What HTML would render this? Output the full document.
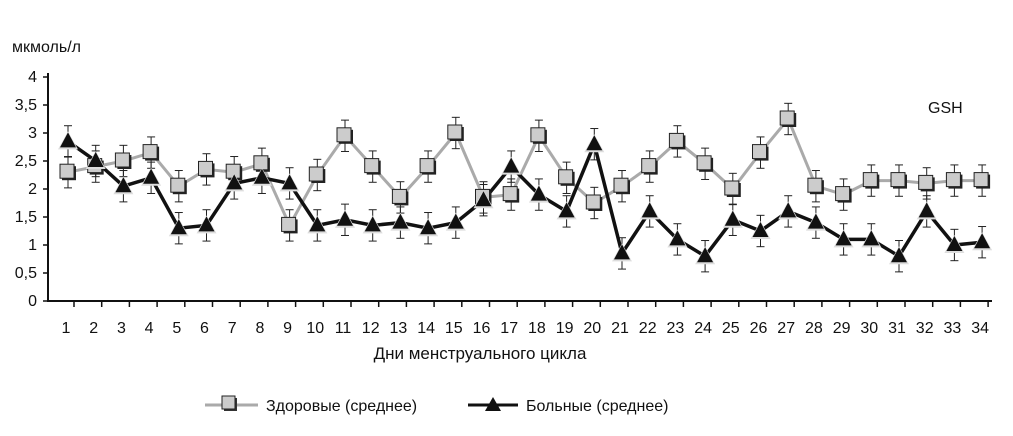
<!DOCTYPE html>
<html><head><meta charset="utf-8"><style>
body{margin:0;background:#fff;width:1013px;height:431px;overflow:hidden}
text{font-family:"Liberation Sans",sans-serif;fill:#111}
</style></head><body>
<svg id="chart" width="1013" height="431" xmlns="http://www.w3.org/2000/svg">
<g id="axes"></g><g id="plot"></g>
<text x="12" y="52" font-size="16">мкмоль/л</text>
<text x="928" y="113" font-size="16">GSH</text>
<text x="480" y="359" font-size="17" text-anchor="middle">Дни менструального цикла</text>
<g>
<g>
<line x1="205" y1="405" x2="258" y2="405" stroke="#aaa" stroke-width="3"/>
<rect x="224" y="398" width="13" height="13" fill="#333"/><rect x="222" y="396" width="13" height="13" fill="#ccc" stroke="#222"/>
<text x="266" y="411" font-size="16">Здоровые (среднее)</text></g>
<g>
<line x1="468" y1="405" x2="518" y2="405" stroke="#111" stroke-width="3"/>
<polygon points="493,397 501,411 485,411" fill="#111"/>
<text x="526" y="411" font-size="16">Больные (среднее)</text></g></g>
</svg>
<script>
const days=[1,2,3,4,5,6,7,8,9,10,11,12,13,14,15,16,17,18,19,20,21,22,23,24,25,26,27,28,29,30,31,32,33,34];
const healthy=[2.3,2.4,2.5,2.65,2.05,2.35,2.3,2.45,1.35,2.25,2.95,2.4,1.85,2.4,3.0,1.85,1.9,2.95,2.2,1.75,2.05,2.4,2.85,2.45,2.0,2.65,3.25,2.05,1.9,2.15,2.15,2.1,2.15,2.15];
const patients=[2.85,2.5,2.05,2.2,1.3,1.35,2.1,2.2,2.1,1.35,1.45,1.35,1.4,1.3,1.4,1.8,2.4,1.9,1.6,2.8,0.85,1.6,1.1,0.8,1.45,1.25,1.6,1.4,1.1,1.1,0.8,1.6,1.0,1.05];
const errHealthy=0.28, errPatients=0.28;
const yTicks=["0","0,5","1","1,5","2","2,5","3","3,5","4"];
const NS="http://www.w3.org/2000/svg";
const X=d=>68+(d-1)*27.7, Y=v=>301-v*56;
function mk(t,a,p){const e=document.createElementNS(NS,t);for(const k in a)e.setAttribute(k,a[k]);p.appendChild(e);return e;}
const ax=document.getElementById('axes'),pl=document.getElementById('plot');
let l=mk('line',{x1:48,y1:73,x2:48,y2:302,stroke:'#111','stroke-width':2},ax);


l=mk('line',{x1:47,y1:301,x2:992,y2:301,stroke:'#111','stroke-width':2},ax);


yTicks.forEach((t,i)=>{const y=Y(i*0.5);
mk('line',{x1:43,y1:y,x2:48,y2:y,stroke:'#111','stroke-width':1.5},ax);
const tx=mk('text',{x:37,y:y+5,'font-size':16,'text-anchor':'end'},ax);tx.textContent=t;

});
days.forEach(d=>{const x=X(d);
mk('line',{x1:x+6,y1:301,x2:x+6,y2:307,stroke:'#111','stroke-width':1.5},ax);
const tx=mk('text',{x:x-2,y:333,'font-size':16,'text-anchor':'middle'},ax);tx.textContent=d;

});
function err(vals,e){vals.forEach((v,i)=>{const x=X(days[i]);
mk('line',{x1:x,y1:Y(v+e),x2:x,y2:Y(v-e),stroke:'#222','stroke-width':1},pl);
mk('line',{x1:x-4,y1:Y(v+e),x2:x+4,y2:Y(v+e),stroke:'#222','stroke-width':1},pl);
mk('line',{x1:x-4,y1:Y(v-e),x2:x+4,y2:Y(v-e),stroke:'#222','stroke-width':1},pl);});}
err(healthy,errHealthy);err(patients,errPatients);
let p=mk('polyline',{points:healthy.map((v,i)=>X(days[i])+','+Y(v)).join(' '),fill:'none',stroke:'#aaa','stroke-width':3},pl);


p=mk('polyline',{points:patients.map((v,i)=>X(days[i])+','+Y(v)).join(' '),fill:'none',stroke:'#111','stroke-width':3.5},pl);


healthy.forEach((v,i)=>{const x=X(days[i]),y=Y(v);
mk('rect',{x:x-6,y:y-6,width:14,height:14,fill:'#222'},pl);
const r=mk('rect',{x:x-8,y:y-8,width:14,height:14,fill:'#ccc',stroke:'#222','stroke-width':1},pl);

});
patients.forEach((v,i)=>{const x=X(days[i]),y=Y(v);
mk('polygon',{points:`${x},${y-10} ${x+10},${y+8} ${x-10},${y+8}`,fill:'#ddd'},pl);
const t=mk('polygon',{points:`${x},${y-9} ${x+8},${y+6} ${x-8},${y+6}`,fill:'#111'},pl);

});
</script>
</body></html>
